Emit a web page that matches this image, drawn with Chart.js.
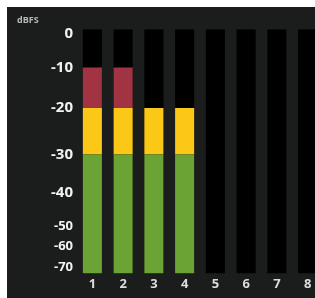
<!DOCTYPE html>
<html>
<head>
<meta charset="utf-8">
<script src="https://cdn.jsdelivr.net/npm/chart.js@4/dist/chart.umd.min.js"></script>
<style>
  html, body { margin: 0; padding: 0; background: #ffffff; overflow: hidden; width: 315px; height: 298px; }
  #wrap { position: absolute; left: 7px; top: 7px; width: 316px; height: 291px; }
  canvas { background: #1b1c1c; display: block; }
</style>
</head>
<body>
<div id="wrap"><canvas id="c" width="316" height="291"></canvas></div>
<script>
// ---- data ----
const channels = ['1', '2', '3', '4', '5', '6', '7', '8'];
const levelsDb = [-10, -10, -20, -20, null, null, null, null];
const yTickValues = [0, -10, -20, -30, -40, -50, -60, -70];
const floorDb = -72;
const ceilDb = 1;
const greenZone = [floorDb, -30];
const yellowZone = [-30, -20];
const redZone = [-20, 0];

// ---- meter scale: piecewise dB -> deflection (as in the printed meter scale) ----
class MeterScale extends Chart.LinearScale {
  _frac(v) {
    const db = this.options.meterDb, fr = this.options.meterFrac;
    if (v <= db[0]) return fr[0];
    for (let i = 1; i < db.length; i++) {
      if (v <= db[i]) {
        const t = (v - db[i - 1]) / (db[i] - db[i - 1]);
        return fr[i - 1] + t * (fr[i] - fr[i - 1]);
      }
    }
    return fr[fr.length - 1];
  }
  _unfrac(f) {
    const db = this.options.meterDb, fr = this.options.meterFrac;
    for (let i = 1; i < fr.length; i++) {
      if (f <= fr[i]) {
        const t = (f - fr[i - 1]) / (fr[i] - fr[i - 1]);
        return db[i - 1] + t * (db[i] - db[i - 1]);
      }
    }
    return db[db.length - 1];
  }
  getPixelForValue(value) {
    if (value === null || value === undefined) return NaN;
    return this.getPixelForDecimal(this._frac(value));
  }
  getValueForPixel(pixel) {
    return this._unfrac(this.getDecimalForPixel(pixel));
  }
}
MeterScale.id = 'meter';
MeterScale.defaults = Chart.LinearScale.defaults;
Chart.register(MeterScale);

function segment(zone) {
  return levelsDb.map(l => (l === null || l <= zone[0]) ? null : [zone[0], Math.min(l, zone[1])]);
}

const common = {
  barPercentage: 0.62,
  categoryPercentage: 1.0,
  grouped: false,
  borderWidth: 0,
  borderSkipped: false
};

new Chart(document.getElementById('c'), {
  type: 'bar',
  data: {
    labels: channels,
    datasets: [
      Object.assign({ label: 'green', data: segment(greenZone), backgroundColor: '#6ba434', order: 0 }, common),
      Object.assign({ label: 'yellow', data: segment(yellowZone), backgroundColor: '#fcc817', order: 0 }, common),
      Object.assign({ label: 'red', data: segment(redZone), backgroundColor: '#a23343', order: 0 }, common),
      Object.assign({ label: 'bg', data: channels.map(() => [floorDb, ceilDb]), backgroundColor: '#000000', order: 10 }, common)
    ]
  },
  options: {
    responsive: false,
    devicePixelRatio: 1,
    animation: false,
    layout: { padding: { left: 10, right: 0, top: 0, bottom: 3 } },
    plugins: {
      legend: { display: false },
      tooltip: { enabled: false },
      title: {
        display: true,
        text: 'dBFS',
        align: 'start',
        color: '#b8b8b8',
        font: { family: 'Open Sans', size: 9, weight: 'bold' },
        padding: { top: 8, bottom: 3.5 }
      }
    },
    scales: {
      x: {
        type: 'category',
        grid: { display: false, drawTicks: false },
        border: { display: false },
        ticks: {
          color: '#dcdcdc',
          padding: 3,
          font: { family: 'Open Sans', size: 13, weight: 'bold' }
        }
      },
      y: {
        type: 'meter',
        min: floorDb,
        max: ceilDb,
        meterDb:   [-72, -70, -60, -50, -40, -30, -20, -10, 0, 1],
        meterFrac: [0, 0.025, 0.109, 0.191, 0.332, 0.487, 0.678, 0.843, 0.982, 1],
        grid: { display: false, drawTicks: false },
        border: { display: false },
        afterBuildTicks: (scale) => { scale.ticks = yTickValues.map(v => ({ value: v })); },
        afterFit: (scale) => { scale.width = 60; },
        ticks: {
          color: '#f2f2f2',
          padding: 4,
          autoSkip: false,
          callback: (v) => String(v),
          font: (ctx) => ({
            family: 'Open Sans',
            weight: 'bold',
            size: (ctx.tick && ctx.tick.value < -40) ? 13 : 15
          })
        }
      }
    }
  }
});
</script>
</body>
</html>
